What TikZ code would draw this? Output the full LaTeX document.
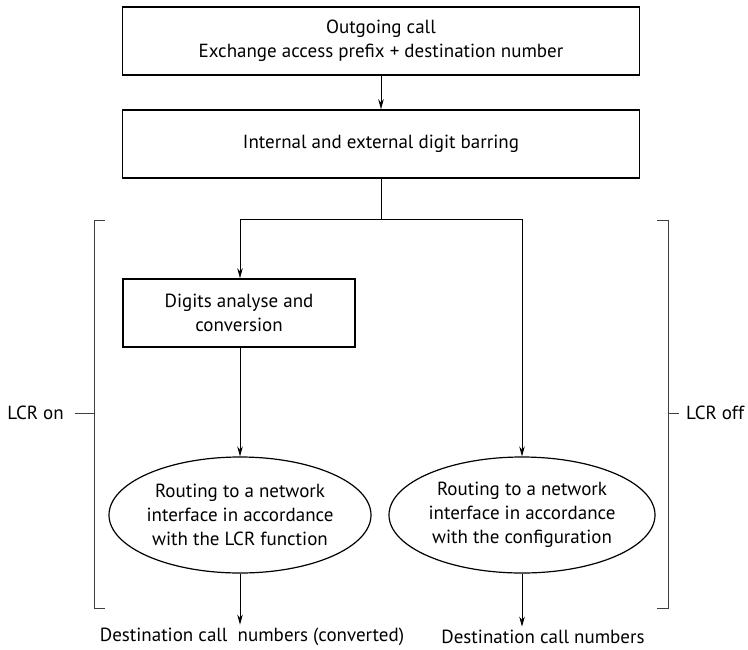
\documentclass[tikz,border=0pt]{standalone}
\usepackage{fontspec}
\setmainfont{PT Sans}
\usetikzlibrary{arrows.meta,shapes.geometric}
\begin{document}
\begin{tikzpicture}[x=1pt,y=-1pt,
  every node/.style={font=\fontsize{19}{24}\selectfont,align=center},
  stepbox/.style={draw,line width=1.6pt,inner sep=0pt},
  route/.style={draw,ellipse,line width=1.2pt,inner xsep=-8pt,inner ysep=-4pt,minimum height=116pt},
  flow/.style={line width=0.8pt,-{Stealth[length=10pt,width=5.5pt]}},
  brace/.style={line width=0.8pt,black!75}]
\useasboundingbox (0,0) rectangle (748,649);
% upper chain
\node[stepbox,minimum width=517pt,minimum height=68pt] (call) at (381,41) {Outgoing call\\Exchange access prefix + destination number};
\node[stepbox,minimum width=517pt,minimum height=68pt] (bar) at (381,144) {Internal and external digit barring};
\draw[flow] (call) -- (bar);
\coordinate (split) at (381,219);
\node[stepbox,minimum width=232pt,minimum height=68pt] (conv) at (239,313) {Digits analyse and\\conversion};
\node[route,minimum width=262pt] (lcr) at (240,515) {Routing to a network\\interface in accordance\\with the LCR function};
\node[route,minimum width=266pt] (cfg) at (522,515) {Routing to a network\\interface in accordance\\with the configuration};
\draw[line width=0.8pt] (bar) -- (split);
\draw[flow] (split) -| (conv.north -| lcr);
\draw[flow] (split) -| (cfg);
\draw[flow] (conv.south -| lcr) -- (lcr);
% outputs
\node (outA) at (252,637) {Destination call\ \ numbers (converted)};
\node (outB) at (543,637) {Destination call numbers};
\draw[flow] (lcr.south) -- (lcr.south |- outA.north);
\draw[flow] (cfg.south) -- (cfg.south |- outB.north);
% brackets
\draw[brace] (105,220) -- (94,220) -- (94,608) -- (105,608);
\draw[brace] (657,220) -- (668,220) -- (668,608) -- (657,608);
\node[anchor=east,inner sep=2pt] (on) at (66,413) {LCR on};
\node[anchor=west,inner sep=2pt] (off) at (684,413) {LCR off};
\draw[brace] (on.east) ++(9,0) -- (94,413);
\draw[brace] (668,413) -- (679,413);
\end{tikzpicture}
\end{document}
